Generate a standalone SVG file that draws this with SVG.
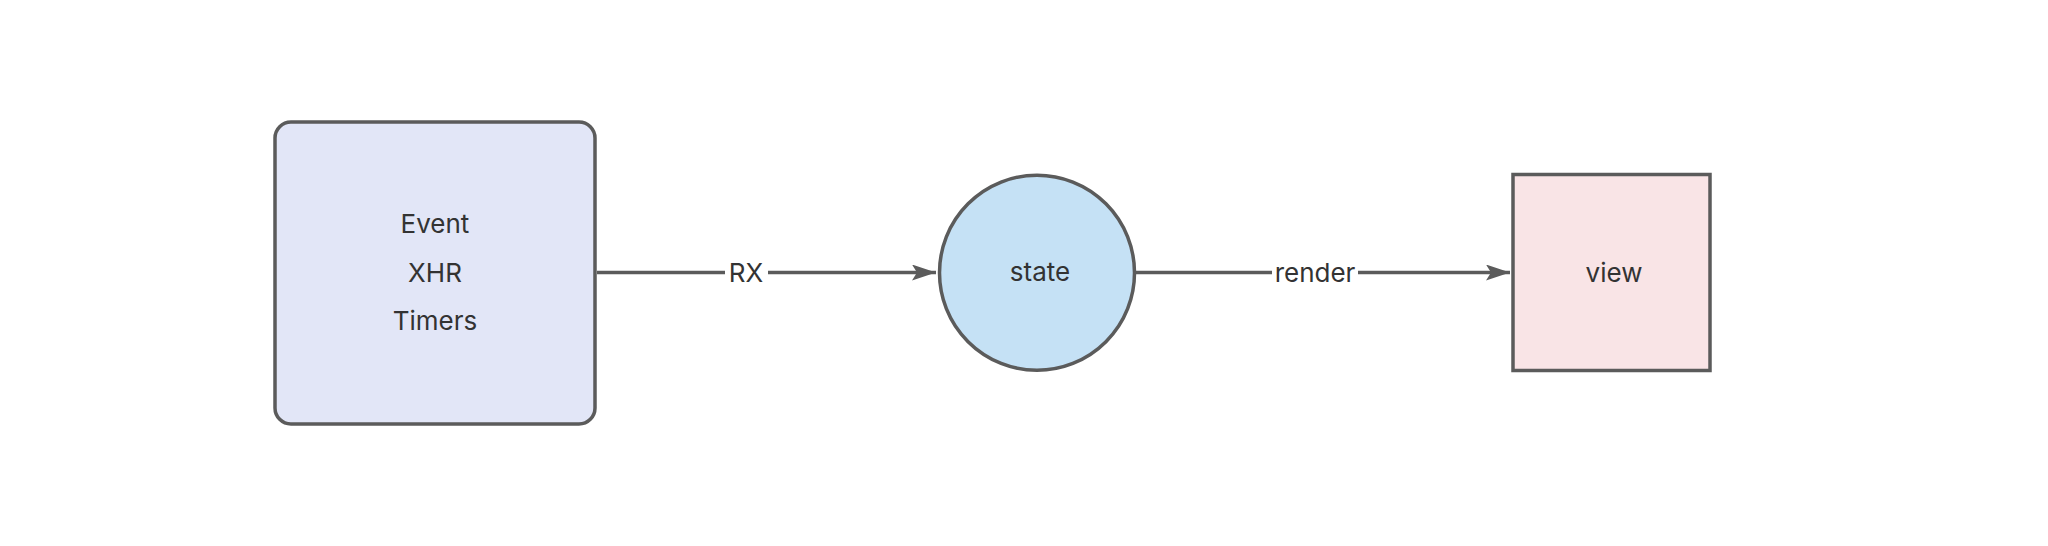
<svg xmlns="http://www.w3.org/2000/svg" width="2048" height="546" viewBox="0 0 2048 546">
<style>
.node{stroke:#5b5b5b;stroke-width:3.5}
.lbl{font-family:Inter,"Liberation Sans",sans-serif;font-size:26px;fill:#333;text-anchor:middle}
.edge{stroke:#5b5b5b;stroke-width:3.5;fill:none}
</style>
<defs>
<marker id="arr" markerWidth="24" markerHeight="16" refX="24" refY="8" orient="auto" markerUnits="userSpaceOnUse">
<path d="M0,0 L24,8 L0,16 L5,8 Z" fill="#5b5b5b"/>
</marker>
</defs>
<rect width="2048" height="546" fill="#fff"/>
<g id="connectors">
<line class="edge" x1="597" y1="272.5" x2="936" y2="272.5" marker-end="url(#arr)"/>
<rect x="725" y="258" width="43" height="30" fill="#fff"/>
<text class="lbl" x="746" y="282">RX</text>
<line class="edge" x1="1136" y1="272.5" x2="1510" y2="272.5" marker-end="url(#arr)"/>
<rect x="1272" y="258" width="86" height="30" fill="#fff"/>
<text class="lbl" x="1315" y="282">render</text>
</g>
<g id="sources">
<rect class="node" x="275" y="122" width="320" height="302" rx="16" fill="#e2e6f7"/>
<text class="lbl" x="435" y="233">Event</text>
<text class="lbl" x="435" y="282">XHR</text>
<text class="lbl" x="435" y="330">Timers</text>
</g>
<g id="state">
<circle class="node" cx="1037" cy="272.7" r="97.5" fill="#c5e1f5"/>
<text class="lbl" x="1040" y="281">state</text>
</g>
<g id="view">
<rect class="node" x="1513" y="174.5" width="197" height="196" fill="#f9e4e6"/>
<text class="lbl" x="1614" y="282">view</text>
</g>
</svg>
